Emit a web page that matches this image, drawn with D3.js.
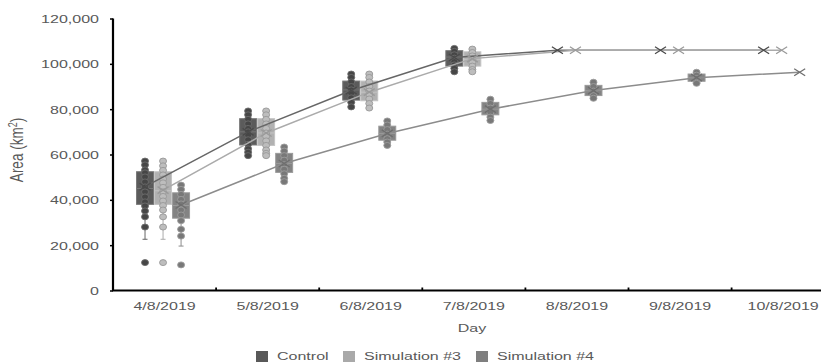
<!DOCTYPE html>
<html>
<head>
<meta charset="utf-8">
<script src="https://cdn.jsdelivr.net/npm/d3@7"></script>
<style>
  body { margin: 0; background: #fff; }
  text { font-family: "Liberation Sans", Arial, sans-serif; fill: #595959; }
</style>
</head>
<body>
<div id="chart"></div>
<script>
const days = ["4/8/2019", "5/8/2019", "6/8/2019", "7/8/2019", "8/8/2019", "9/8/2019", "10/8/2019"];
const seriesNames = ["Control", "Simulation #3", "Simulation #4"];
const yTicks = [0, 20000, 40000, 60000, 80000, 100000, 120000];

// box rows: [whisker low, q1, median, q3, whisker high], null = no spread
const controlBox = [
  [22600, 38000, 45000, 52400, 57500],
  [59500, 64200, 70000, 75800, 79200],
  [80500, 84000, 88500, 92400, 95500],
  [96500, 99000, 103000, 105800, 106800],
  null, null, null
];
const controlMean = [45800, 70000, 88200, 102800, 106000, 106000, 106000];
const controlPoints = [
  [57100, 55400, 53200, 51900, 50100, 47900, 45700, 43500, 41300, 39100, 37300, 35100, 32500, 28000],
  [79200, 77500, 75500, 73500, 71500, 70000, 68500, 66500, 64500, 62500, 61000, 59500],
  [95500, 94000, 92000, 90000, 88500, 87000, 85000, 83000, 81000],
  [106800, 105500, 104000, 102500, 101000, 99500, 98000, 96500],
  [], [], []
];
const controlOutliers = [[12300], [], [], [], [], [], []];

const sim3Box = [
  [22600, 38000, 44000, 52400, 57500],
  [59500, 64000, 69500, 75800, 79200],
  [80500, 83700, 87500, 92400, 95500],
  [96500, 99000, 102000, 105300, 106500],
  null, null, null
];
const sim3Mean = [44300, 69500, 87500, 102300, 106000, 106000, 106000];
const sim3Points = [
  [57100, 55000, 53000, 51000, 49200, 47500, 45500, 43500, 41500, 39500, 37500, 35500, 32500, 28000],
  [79200, 77500, 75500, 73500, 71500, 69500, 68000, 66000, 64000, 62000, 60500, 59500],
  [95500, 94000, 92000, 90000, 88000, 86500, 84500, 82500, 80500],
  [106500, 105000, 103500, 102000, 100500, 99000, 97500, 96500],
  [], [], []
];
const sim3Outliers = [[12300], [], [], [], [], [], []];

const sim4Box = [
  [19600, 31900, 37500, 43100, 46800],
  [48000, 52100, 56000, 60500, 63300],
  [64000, 66300, 69300, 72500, 74800],
  [75000, 77500, 80000, 83000, 84400],
  [84800, 86000, 88200, 90500, 91900],
  [91400, 92300, 93900, 95500, 96300],
  null
];
const sim4Mean = [37700, 56000, 69300, 80000, 88200, 93900, 96300];
const sim4Points = [
  [46500, 44600, 42400, 40200, 38200, 35500, 33300, 30800, 27000, 24000],
  [63300, 61500, 59500, 57500, 55500, 53500, 51500, 49500, 48000],
  [74800, 73000, 71000, 69000, 67000, 65500, 64000],
  [84400, 82500, 80500, 78500, 76500, 75000],
  [91900, 90000, 88000, 86000, 84800],
  [96300, 95000, 93500, 92000, 91400],
  []
];
const sim4Outliers = [[11300], [], [], [], [], [], []];

const styles = {
  "Control":       {swatch: "#595959", fill: "#5b5b5b", edge: "#777", dot: "#464646", dotEdge: "#6c6c6c", line: "#666", mark: "#4a4a4a"},
  "Simulation #3": {swatch: "#a9a9a9", fill: "#b1b1b1", edge: "#c4c4c4", dot: "#bdbdbd", dotEdge: "#979797", line: "#ababab", mark: "#9a9a9a"},
  "Simulation #4": {swatch: "#7f7f7f", fill: "#838383", edge: "#9a9a9a", dot: "#787878", dotEdge: "#9c9c9c", line: "#8c8c8c", mark: "#6e6e6e"}
};

const series = [
  {name: "Control", box: controlBox, mean: controlMean, points: controlPoints, outliers: controlOutliers},
  {name: "Simulation #3", box: sim3Box, mean: sim3Mean, points: sim3Points, outliers: sim3Outliers},
  {name: "Simulation #4", box: sim4Box, mean: sim4Mean, points: sim4Points, outliers: sim4Outliers}
];

const width = 821, height = 363;
const plotLeft = 113, plotTop = 18.5, plotBottom = 290.5;
const stretch = 1.37; // picture is stretched sideways
const fontSize = 11.7;

const svg = d3.select("#chart").append("svg")
  .attr("width", width)
  .attr("height", height);

const x = d3.scaleBand().domain(days).range([plotLeft, plotLeft + 7 * 103.1]);
const xSub = d3.scaleBand().domain(seriesNames).range([-28, 25]).paddingInner(0.06);
const y = d3.scaleLinear().domain([0, 120000]).range([plotBottom, plotTop]);

const cx = (s, i) => x(days[i]) + x.bandwidth() / 2 + xSub(s) + xSub.bandwidth() / 2;
const bw = xSub.bandwidth();

// y axis
const yAxis = svg.append("g")
  .attr("transform", `translate(${plotLeft},0)`)
  .call(d3.axisLeft(y).tickValues(yTicks).tickSize(3).tickFormat(d3.format(",")));
yAxis.select(".domain").remove();
yAxis.selectAll(".tick line").attr("stroke", "#000").attr("stroke-width", 1.5);
yAxis.selectAll(".tick text")
  .attr("x", null).attr("dy", "0.34em")
  .attr("transform", `translate(-14,0) scale(${stretch},1)`)
  .style("font-size", fontSize + "px")
  .attr("fill", "#595959");

// x axis labels
const xAxis = svg.append("g")
  .attr("transform", `translate(0,${plotBottom})`)
  .call(d3.axisBottom(x).tickSize(0));
xAxis.select(".domain").remove();
xAxis.selectAll(".tick text")
  .attr("y", 15.5).attr("dy", "0.34em")
  .attr("transform", `scale(${stretch},1)`)
  .style("font-size", fontSize + "px")
  .attr("fill", "#595959");

// category boundary ticks
svg.append("g").selectAll("line")
  .data(days.slice(1))
  .join("line")
  .attr("x1", d => x(d)).attr("x2", d => x(d))
  .attr("y1", plotBottom).attr("y2", plotBottom - 3)
  .attr("stroke", "#000").attr("stroke-width", 1.8);

// axis lines
svg.append("path")
  .attr("d", `M${plotLeft},${y(120000)}V${y(0)}H${width + 2}`)
  .attr("fill", "none")
  .attr("stroke", "#000")
  .attr("stroke-width", 2.2)
  .attr("stroke-linejoin", "round");

// axis titles
svg.append("text")
  .attr("transform", `translate(23,150) scale(${stretch},1) rotate(-90)`)
  .attr("text-anchor", "middle")
  .style("font-size", "13.5px")
  .html('Area (km<tspan dy="-4.5" style="font-size:9px">2</tspan><tspan dy="4.5">)</tspan>');

svg.append("text")
  .attr("transform", `translate(472,328.5) scale(${stretch},1)`)
  .attr("text-anchor", "middle")
  .attr("dy", "0.34em")
  .style("font-size", fontSize + "px")
  .text("Day");

// boxes
series.forEach(s => {
  const st = styles[s.name];
  const g = svg.append("g");
  s.box.forEach((b, i) => {
    if (!b) return;
    const c = cx(s.name, i);
    g.append("line")
      .attr("x1", c).attr("x2", c).attr("y1", y(b[0])).attr("y2", y(b[4]))
      .attr("stroke", st.line).attr("stroke-width", 1);
    g.selectAll(null).data([b[0], b[4]]).join("line")
      .attr("x1", c - 2.5).attr("x2", c + 2.5)
      .attr("y1", d => y(d)).attr("y2", d => y(d))
      .attr("stroke", st.line).attr("stroke-width", 1);
    g.append("rect")
      .attr("x", c - bw / 2).attr("width", bw)
      .attr("y", y(b[3])).attr("height", y(b[1]) - y(b[3]))
      .attr("fill", st.fill).attr("stroke", st.edge).attr("stroke-width", 1);
    g.append("line")
      .attr("x1", c - bw / 2).attr("x2", c + bw / 2)
      .attr("y1", y(b[2])).attr("y2", y(b[2]))
      .attr("stroke", st.edge).attr("stroke-width", 1);
  });
});

// inner points and outliers
series.forEach(s => {
  const st = styles[s.name];
  const pts = [];
  s.points.forEach((arr, i) => arr.forEach(v => pts.push([i, v])));
  s.outliers.forEach((arr, i) => arr.forEach(v => pts.push([i, v])));
  svg.append("g").selectAll("ellipse")
    .data(pts)
    .join("ellipse")
    .attr("cx", d => cx(s.name, d[0]))
    .attr("cy", d => y(d[1]))
    .attr("rx", 3.5).attr("ry", 3)
    .attr("fill", st.dot)
    .attr("stroke", st.dotEdge)
    .attr("stroke-width", 0.9);
});

// mean lines
const line = d3.line();
series.forEach(s => {
  svg.append("path")
    .attr("d", line(s.mean.map((v, i) => [cx(s.name, i), y(v)])))
    .attr("fill", "none")
    .attr("stroke", styles[s.name].line)
    .attr("stroke-width", 1.5);
});

// mean markers
series.forEach(s => {
  const st = styles[s.name];
  svg.append("g").selectAll("path")
    .data(s.mean)
    .join("path")
    .attr("d", (v, i) => {
      const c = cx(s.name, i), m = y(v);
      return `M${c - 5.5},${m - 3.5}L${c + 5.5},${m + 3.5}M${c - 5.5},${m + 3.5}L${c + 5.5},${m - 3.5}`;
    })
    .attr("fill", "none")
    .attr("stroke", st.mark)
    .attr("stroke-width", 1.3);
});

// legend
const legend = svg.append("g");
const legendX = [256, 343, 476];
seriesNames.forEach((n, i) => {
  legend.append("rect")
    .attr("x", legendX[i]).attr("y", 351)
    .attr("width", 12).attr("height", 11)
    .attr("fill", styles[n].swatch);
  legend.append("text")
    .attr("transform", `translate(${legendX[i] + 21},356.5) scale(${stretch},1)`)
    .attr("dy", "0.34em")
    .style("font-size", fontSize + "px")
    .text(n);
});
</script>
</body>
</html>
